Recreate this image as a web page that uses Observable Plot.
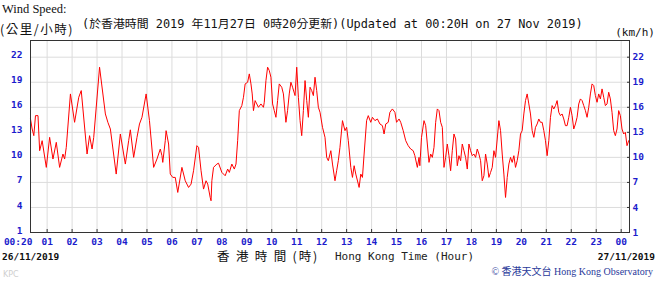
<!DOCTYPE html>
<html>
<head>
<meta charset="utf-8">
<script src="https://cdn.jsdelivr.net/npm/d3@7"></script>
<script src="https://cdn.jsdelivr.net/npm/@observablehq/plot@0.6"></script>
<style>
  body { margin: 0; background: #fff; }
  #wrap { position: relative; width: 656px; height: 287px; overflow: hidden; }
  #wrap svg { position: absolute; left: 0; top: 0; }
  .t { position: absolute; white-space: pre; line-height: 1; }
</style>
</head>
<body>
<div id="wrap"></div>
<script>
// minutes after 00:20 on 26/11/2019
const minutes = [
  0,4,8,12,18,22,28,38,46,54,62,70,78,82,86,96,106,116,122,136,142,148,152,166,180,186,192,206,216,228,236,240,248,256,262,268,278,286,296,304,312,316,318,324,326,332,336,342,348,354,364,372,380,386,392,400,404,410,416,422,426,432,434,
  436,440,448,452,460,468,474,478,484,490,494,498,502,508,512,516,522,526,530,533,536,540,544,548,554,560,562,566,570,574,578,582,586,590,594,598,604,608,614,618,622,626,630,636,640,644,648,652,656,660,664,668,672,676,680,684,688,692,696,702,708,712,716,722,726,732,736,740,744,750,756,760,764,770,774,778,782,788,790,794,798,802,808,812,818,822,828,834,840,846,850,854,860,864,870,876,880,886,890,896,902,908,914,920,924,930,934,
  936,940,946,950,954,958,962,966,970,974,978,982,986,990,994,998,1002,1006,1010,1014,1018,1022,1026,1030,1034,1038,1042,1046,1050,1054,1058,1062,1066,1070,1074,1078,1082,1086,1090,1094,1098,1102,1106,1110,1114,1118,1122,1126,1130,1134,1138,1142,1146,1150,1154,1158,1162,1166,1170,1174,1178,1182,1186,1190,1194,1198,1202,1206,1210,1214,1218,1222,1226,1230,1234,1238,1242,1246,1250,1254,1258,1262,1266,1270,1274,1278,1282,1286,1290,1294,1298,1302,1306,1310,1314,1318,1322,1326,1330,1334,1338,1342,1346,1350,1354,1358,1362,1366,1370,1374,1378,1382,1386,1390,1394,1398,1402,1406,1410,1414,1418,1422,1426,1430,1434,1438
];
// wind speed, km/h
const speeds = [
  14.6,13.4,12.6,15.0,15.0,10.8,12.0,8.8,12.4,9.8,11.8,8.8,10.4,9.8,11.2,17.6,14.2,17.2,18.0,10.4,12.6,11.0,12.4,20.8,15.2,14.2,13.4,8.0,12.8,9.2,12.0,13.3,10.0,12.4,14.0,14.8,17.6,14.4,8.8,9.8,11.0,10.2,9.4,12.0,13.2,11.6,8.0,7.6,7.6,5.8,8.8,7.2,6.4,6.8,8.4,11.4,11.2,8.4,6.2,7.2,6.8,5.2,4.8,
  7.2,8.8,9.2,9.3,8.2,7.8,8.6,8.2,9.2,8.6,9.2,12.0,15.6,16.2,17.2,18.8,19.0,20.0,18.8,17.6,15.6,16.8,16.4,16.0,16.4,16.0,16.6,19.2,20.8,20.4,19.6,16.4,15.6,14.8,16.8,18.8,18.4,17.6,14.2,15.6,17.6,19.0,18.4,17.4,20.8,17.2,14.4,12.6,15.6,19.2,16.8,14.8,18.4,18.0,17.4,19.6,18.0,16.0,15.4,13.6,12.4,10.0,9.6,10.8,9.2,7.2,8.4,9.6,11.2,14.4,13.2,13.6,12.0,8.8,7.6,9.0,8.0,6.8,6.4,8.0,7.6,10.4,14.4,15.0,14.2,14.8,14.4,14.6,14.0,13.8,12.8,14.0,14.2,15.4,15.8,15.4,14.2,14.6,14.2,13.2,12.0,11.4,11.0,10.8,10.2,8.8,10.0,
  9.0,12.4,14.4,13.8,11.6,9.4,10.4,10.0,11.2,14.2,15.8,15.6,14.2,13.6,8.8,10.0,11.6,10.2,8.4,10.8,12.8,12.2,9.0,10.2,9.6,11.6,10.8,10.0,8.6,11.6,10.8,10.2,10.4,10.0,11.0,10.4,9.6,7.2,7.8,10.4,9.2,7.6,8.2,8.8,10.8,10.0,12.2,14.4,13.2,10.4,8.0,5.2,7.6,9.2,10.0,9.4,10.2,8.8,9.6,10.8,12.8,13.2,15.2,16.8,17.6,16.4,15.2,13.2,12.4,13.6,14.0,14.6,14.2,14.2,13.2,12.0,10.2,12.0,14.8,16.2,15.8,16.2,16.8,15.4,15.0,15.2,14.6,13.8,13.8,14.8,16.0,15.0,13.4,14.0,14.8,16.4,17.0,16.8,16.2,15.6,14.8,16.0,17.6,18.8,18.6,17.4,16.6,17.6,17.0,18.2,17.2,16.2,16.4,17.8,17.0,15.4,13.2,12.6,13.4,15.6,15.0,13.4,12.8,13.0,11.4,12.0
];
const yTicks = [1, 4, 7, 10, 13, 16, 19, 22];
const hourTicks = [1,2,3,4,5,6,7,8,9,10,11,12,13,14,15,16,17,18,19,20,21,22,23,24];
const startLabel = "00:20";
const startHour = 20 / 60;

const data = minutes.map((m, i) => ({ h: (20 + m) / 60, v: speeds[i] }));
const blue = "#1c1ccc";
const fmtH = h => String(h % 24).padStart(2, "0");

const chart = Plot.plot({
  width: 656,
  height: 287,
  marginLeft: 30,
  marginRight: 27,
  marginTop: 40,
  marginBottom: 55,
  style: { fontFamily: "DejaVu Sans Mono, monospace", background: "white" },
  x: { domain: [startHour, 24 + startHour] },
  y: { domain: [1, 24] },
  marks: [
    Plot.gridX(hourTicks, { stroke: "#dcdcdc", strokeOpacity: 1 }),
    Plot.gridY(yTicks.slice(1), { stroke: "#dcdcdc", strokeOpacity: 1 }),
    Plot.line(data, { x: "h", y: "v", stroke: "#ff0000", strokeWidth: 1 }),
    Plot.frame({ stroke: "#333" }),
    Plot.axisY(yTicks, { anchor: "left", tickSize: 0, tickPadding: 8, dy: -2, fill: blue, fontSize: 9.5, fontWeight: "bold", label: null }),
    Plot.axisY(yTicks, { anchor: "right", tickSize: -3, tickPadding: 6, stroke: "#333", fill: blue, fontSize: 9.5, fontWeight: "bold", label: null }),
    Plot.axisX(hourTicks, { anchor: "bottom", tickSize: -3, tickPadding: 9, stroke: "#333", fill: blue, fontSize: 9.5, fontWeight: "bold", tickFormat: fmtH, label: null }),
    Plot.text([startLabel], { x: [startHour], frameAnchor: "bottom", textAnchor: "end", dx: 2, dy: 12, fill: blue, fontSize: 9.5, fontWeight: "bold" })
  ]
});

const wrap = document.getElementById("wrap");
wrap.appendChild(chart);

function addText(txt, css) {
  const s = document.createElement("div");
  s.className = "t";
  s.textContent = txt;
  Object.assign(s.style, css);
  wrap.appendChild(s);
}
addText("Wind Speed:", { left: "2px", top: "3px", fontFamily: "Liberation Serif, serif", fontSize: "12.5px", color: "#111" });
addText("(公里/小時)", { left: "0px", top: "23px", fontFamily: "Noto Sans CJK TC, sans-serif", fontSize: "12.5px", letterSpacing: "1.5px", color: "#111" });
addText("(於香港時間 2019 年11月27日 0時20分更新)(Updated at 00:20H on 27 Nov 2019)", { left: "82px", top: "19px", fontFamily: "DejaVu Sans Mono, Noto Sans CJK TC, monospace", fontSize: "11.9px", color: "#111" });
addText("(km/h)", { right: "1px", top: "27px", fontFamily: "DejaVu Sans Mono, monospace", fontSize: "11px", color: "#111" });
addText("26/11/2019", { left: "2px", top: "252px", fontFamily: "DejaVu Sans Mono, monospace", fontSize: "9.5px", fontWeight: "bold", color: "#111" });
addText("香 港 時 間 (時)", { left: "217px", top: "250px", fontFamily: "Noto Sans CJK TC, sans-serif", fontSize: "12.5px", letterSpacing: "1.8px", color: "#111" });
addText("Hong Kong Time (Hour)", { left: "335px", top: "251px", fontFamily: "DejaVu Sans Mono, monospace", fontSize: "11px", color: "#222" });
addText("27/11/2019", { right: "1px", top: "252px", fontFamily: "DejaVu Sans Mono, monospace", fontSize: "9.5px", fontWeight: "bold", color: "#111" });
addText("© 香港天文台 Hong Kong Observatory", { right: "3px", top: "267px", fontFamily: "Liberation Serif, Noto Sans CJK TC, serif", fontSize: "10px", color: "#2a3a9a" });
addText("KPC", { left: "3px", top: "271px", fontFamily: "DejaVu Sans, sans-serif", fontSize: "8px", color: "#cfcfcf" });
</script>
</body>
</html>
